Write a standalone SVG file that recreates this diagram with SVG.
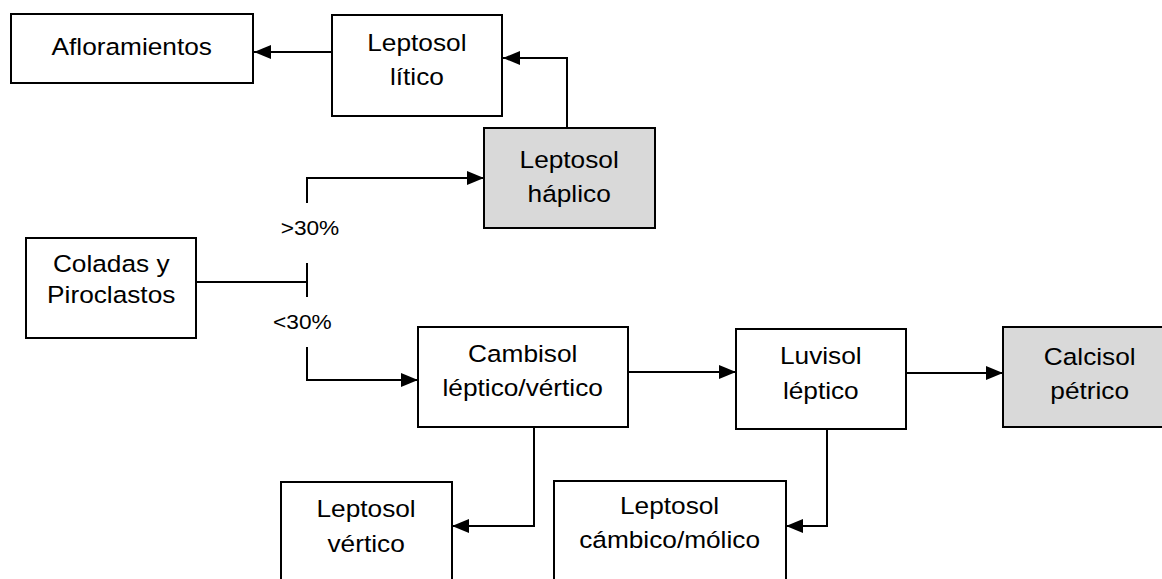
<svg xmlns="http://www.w3.org/2000/svg" width="1162" height="579" viewBox="0 0 1162 579">
  <defs>
    <marker id="arrow" viewBox="0 0 17 14" refX="17" refY="7" markerWidth="17" markerHeight="14" markerUnits="userSpaceOnUse" orient="auto">
      <path d="M0,0 L17,7 L0,14 Z" fill="#000"/>
    </marker>
    <style>
      .box { fill: #fff; stroke: #000; stroke-width: 2; }
      .shaded { fill: #d9d9d9; stroke: #000; stroke-width: 2; }
      .lbl { font-family: "Liberation Sans", Arial, sans-serif; font-size: 24.3px; fill: #000; text-anchor: middle; }
      .pct { font-family: "Liberation Sans", Arial, sans-serif; font-size: 21px; fill: #000; text-anchor: middle; }
      .wire { fill: none; stroke: #000; stroke-width: 2; }
      .arr { fill: none; stroke: #000; stroke-width: 2; marker-end: url(#arrow); }
    </style>
  </defs>

  <rect width="1162" height="579" fill="#fff"/>

  <!-- connectors -->
  <g id="connectors">
    <path class="arr" d="M332,52 H254"/>
    <path class="arr" d="M567,128 V58 H503"/>
    <path class="wire" d="M196,282 H307 M307,263 V297"/>
    <path class="arr" d="M307,203 V178 H484"/>
    <path class="arr" d="M307,347 V380 H418"/>
    <path class="arr" d="M628,372 H736"/>
    <path class="arr" d="M907,373 H1003"/>
    <path class="arr" d="M534,427 V526 H452"/>
    <path class="arr" d="M827,429 V526 H786"/>
  </g>

  <!-- branch labels -->
  <g id="labels">
    <text class="pct" transform="scale(1.08 1)" x="287" y="235">&gt;30%</text>
    <text class="pct" transform="scale(1.08 1)" x="280" y="329">&lt;30%</text>
  </g>

  <g id="afloramientos">
    <rect class="box" x="11" y="14" width="242" height="69"/>
    <text class="lbl" transform="scale(1.08 1)" x="122" y="55">Afloramientos</text>
  </g>

  <g id="leptosol-litico">
    <rect class="box" x="332" y="15" width="170" height="101"/>
    <text class="lbl" transform="scale(1.08 1)" x="386" y="51">Leptosol</text>
    <text class="lbl" transform="scale(1.08 1)" x="386" y="85">lítico</text>
  </g>

  <g id="leptosol-haplico">
    <rect class="shaded" x="484" y="128" width="171" height="100"/>
    <text class="lbl" transform="scale(1.08 1)" x="527" y="168">Leptosol</text>
    <text class="lbl" transform="scale(1.08 1)" x="527" y="202">háplico</text>
  </g>

  <g id="coladas">
    <rect class="box" x="26" y="238" width="170" height="100"/>
    <text class="lbl" transform="scale(1.08 1)" x="103" y="272">Coladas y</text>
    <text class="lbl" transform="scale(1.08 1)" x="103" y="303">Piroclastos</text>
  </g>

  <g id="cambisol">
    <rect class="box" x="418" y="327" width="210" height="100"/>
    <text class="lbl" transform="scale(1.08 1)" x="484" y="362">Cambisol</text>
    <text class="lbl" transform="scale(1.08 1)" x="484" y="396">léptico/vértico</text>
  </g>

  <g id="luvisol">
    <rect class="box" x="736" y="329" width="170" height="100"/>
    <text class="lbl" transform="scale(1.08 1)" x="760" y="364">Luvisol</text>
    <text class="lbl" transform="scale(1.08 1)" x="760" y="399">léptico</text>
  </g>

  <g id="calcisol">
    <rect class="shaded" x="1003" y="327" width="174" height="100"/>
    <text class="lbl" transform="scale(1.08 1)" x="1009" y="365">Calcisol</text>
    <text class="lbl" transform="scale(1.08 1)" x="1009" y="399">pétrico</text>
  </g>

  <g id="leptosol-vertico">
    <rect class="box" x="281" y="482" width="171" height="110"/>
    <text class="lbl" transform="scale(1.08 1)" x="339" y="517">Leptosol</text>
    <text class="lbl" transform="scale(1.08 1)" x="339" y="552">vértico</text>
  </g>

  <g id="leptosol-cambico">
    <rect class="box" x="554" y="481" width="232" height="110"/>
    <text class="lbl" transform="scale(1.08 1)" x="620" y="514">Leptosol</text>
    <text class="lbl" transform="scale(1.08 1)" x="620" y="548">cámbico/mólico</text>
  </g>
</svg>
